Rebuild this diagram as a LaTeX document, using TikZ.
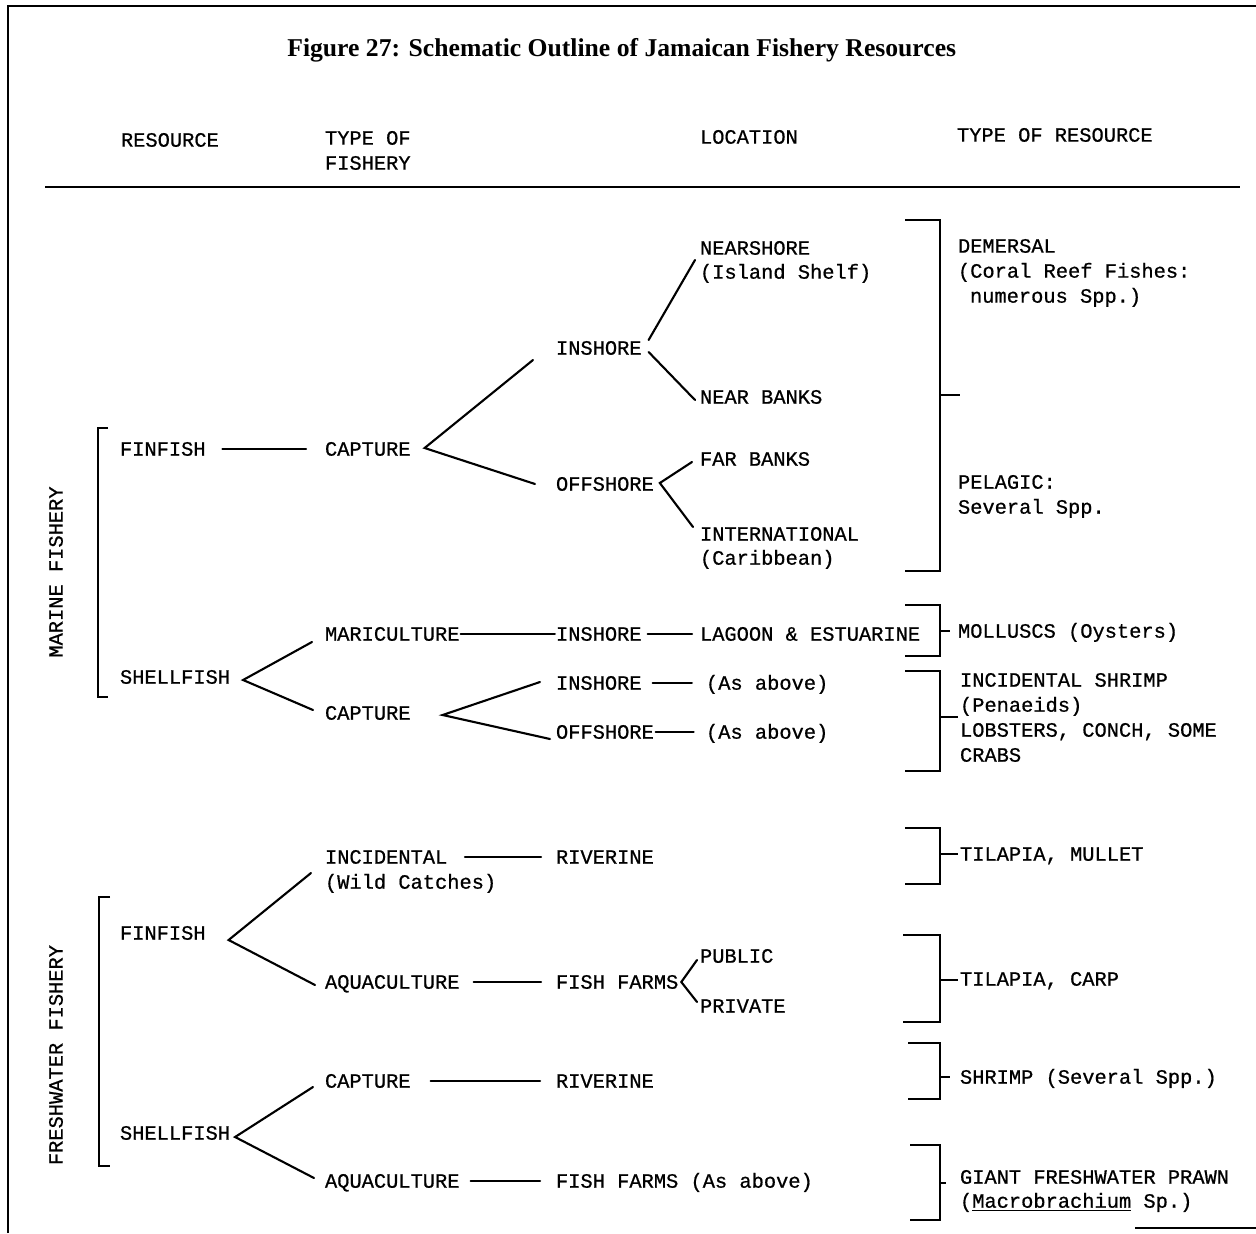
\documentclass[tikz,border=0pt]{standalone}
\usepackage{fontspec}
\setmainfont{Liberation Serif}
\newfontfamily\typer{Liberation Mono}[FakeBold=0.7]
\usetikzlibrary{calc}
\tikzset{
lab/.style = {anchor=west, inner sep=0pt, outer sep=0pt,
              text height=7.6pt, text depth=0pt,
              font=\typer\fontsize{11.6}{14}\selectfont},
wire/.style = {line width=1.2pt, line cap=round},
brk/.style = {line width=1.3pt},
gap/.style 2 args = {shorten <=#1, shorten >=#2}
}
% one line of typed text, left edge at the point
\newcommand{\lab}[3]{\node[lab] (#1) at (#2) {#3};}
% straight run between two labels on one row
\newcommand{\hlink}[4]{\draw[wire, gap={#3}{#4}] (#1.east) -- (#2.west);}
% the "<" split: vertex first, then both ends
\newcommand{\fork}[3]{\draw[wire] (#2) -- (#1) -- (#3);}
% closing bracket in front of the resource column
\newcommand{\resbrak}[3]{\draw[brk] (#1,#2) -| (940,#3) -- (#1,#3);}

\begin{document}
\begin{tikzpicture}[x=0.02cm, y=-0.02cm]
    \useasboundingbox (0,0) rectangle (1256,1233);
    \draw[line width=1.1pt] (8,1233) -- (8,6) -- (1256,6);
    \draw[line width=1.1pt] (1135,1228) -- (1256,1228);

    \node[anchor=west, inner sep=0pt, font=\bfseries\fontsize{14.6}{16}\selectfont]
        (title) at (287,50) {Figure 27: Schematic Outline of Jamaican Fishery Resources};

    % column heads
    \lab{hres}{121,140}{RESOURCE};
    \lab{htype}{325,138}{TYPE OF};
    \lab{htype2}{325,163}{FISHERY};
    \lab{hloc}{700,137}{LOCATION};
    \lab{hkind}{957,135}{TYPE OF RESOURCE};
    \draw[line width=1.2pt] (45,187) -- (1240,187);

    % marine side
    \node[lab, anchor=center, rotate=90] (marine) at (56,572) {MARINE FISHERY};
    \draw[brk] (108,428) -- (98,428) -- (98,697) -- (108,697);

    \lab{mfin}{120,449}{FINFISH};
    \lab{mcap}{325,449}{CAPTURE};
    \lab{mins}{556,348}{INSHORE};
    \lab{mnear}{700,248}{NEARSHORE};
    \lab{mnear2}{700,272}{(Island Shelf)};
    \lab{mnbank}{700,397}{NEAR BANKS};
    \lab{moff}{556,484}{OFFSHORE};
    \lab{mfbank}{700,459}{FAR BANKS};
    \lab{mintl}{700,534}{INTERNATIONAL};
    \lab{mintl2}{700,558}{(Caribbean)};

    \lab{dem}{958,246}{DEMERSAL};
    \lab{dem2}{958,271}{(Coral Reef Fishes:};
    \lab{dem3}{970,296}{numerous Spp.)};
    \lab{pel}{958,482}{PELAGIC:};
    \lab{pel2}{958,507}{Several Spp.};

    \hlink{mfin}{mcap}{9.5pt}{10.8pt}
    \coordinate (mcapv) at ([shift={(14,-1)}]mcap.east);
    \fork{mcapv}{[shift={(-23,12)}]mins.west}{[shift={(-21,0)}]moff.west}
    \draw[wire] ([shift={(7,-8)}]mins.east) -- ([shift={(-5,12)}]mnear.west);
    \draw[wire] ([shift={(7,4)}]mins.east) -- ([shift={(-5,3)}]mnbank.west);
    \coordinate (moffv) at ([shift={(6,-1)}]moff.east);
    \fork{moffv}{[shift={(-8,3)}]mfbank.west}{[shift={(-7,-7)}]mintl.west}

    \resbrak{905}{220}{571}
    \draw[brk] (940,395) -- (960,395);

    \lab{mshell}{120,677}{SHELLFISH};
    \lab{mmari}{325,634}{MARICULTURE};
    \lab{mmins}{556,634}{INSHORE};
    \lab{lagoon}{700,634}{LAGOON \& ESTUARINE};
    \lab{moll}{958,631}{MOLLUSCS (Oysters)};
    \lab{mcap2}{325,713}{CAPTURE};
    \lab{mcins}{556,683}{INSHORE};
    \lab{mcinsx}{706,683}{(As above)};
    \lab{mcoff}{556,732}{OFFSHORE};
    \lab{mcoffx}{706,732}{(As above)};

    \coordinate (mshellv) at ([shift={(13,3)}]mshell.east);
    \fork{mshellv}{[shift={(-13,8)}]mmari.west}{[shift={(-12,-3)}]mcap2.west}
    \hlink{mmari}{mmins}{0.6pt}{0.6pt}
    \hlink{mmins}{lagoon}{3.4pt}{4.5pt}
    \coordinate (mcap2v) at ([shift={(32,2)}]mcap2.east);
    \fork{mcap2v}{[shift={(-16,-1)}]mcins.west}{[shift={(-6,7)}]mcoff.west}
    \hlink{mcins}{mcinsx}{6.3pt}{8pt}
    \hlink{mcoff}{mcoffx}{1pt}{7pt}

    \resbrak{905}{605}{656}
    \draw[brk] (940,631) -- (950,631);
    \resbrak{905}{671}{771}
    \draw[brk] (940,717) -- (958,717);
    \lab{shr1}{960,680}{INCIDENTAL SHRIMP};
    \lab{shr2}{960,705}{(Penaeids)};
    \lab{shr3}{960,730}{LOBSTERS, CONCH, SOME};
    \lab{shr4}{960,755}{CRABS};

    % freshwater side
    \node[lab, anchor=center, rotate=90] (fresh) at (56,1055) {FRESHWATER FISHERY};
    \draw[brk] (110,897) -- (99,897) -- (99,1166) -- (110,1166);

    \lab{ffin}{120,933}{FINFISH};
    \lab{finc}{325,857}{INCIDENTAL};
    \lab{finc2}{325,882}{(Wild Catches)};
    \lab{friv}{556,857}{RIVERINE};
    \lab{faqua}{325,982}{AQUACULTURE};
    \lab{ffarm}{556,982}{FISH FARMS};
    \lab{fpub}{700,956}{PUBLIC};
    \lab{fpriv}{700,1006}{PRIVATE};

    \coordinate (ffinv) at ([shift={(23,7)}]ffin.east);
    \fork{ffinv}{[shift={(-14,16)}]finc.west}{[shift={(-10,3)}]faqua.west}
    \hlink{finc}{friv}{10pt}{8.5pt}
    \hlink{faqua}{ffarm}{8pt}{8.5pt}
    \coordinate (ffarmv) at ([shift={(3,0)}]ffarm.east);
    \fork{ffarmv}{[shift={(-3,4)}]fpub.west}{[shift={(-3,-4)}]fpriv.west}

    \lab{fshell}{120,1133}{SHELLFISH};
    \lab{fcap}{325,1081}{CAPTURE};
    \lab{friv2}{556,1081}{RIVERINE};
    \lab{faqua2}{325,1181}{AQUACULTURE};
    \lab{ffarm2}{556,1181}{FISH FARMS (As above)};

    \coordinate (fshellv) at ([shift={(5,4)}]fshell.east);
    \fork{fshellv}{[shift={(-12,6)}]fcap.west}{[shift={(-11,-3)}]faqua2.west}
    \hlink{fcap}{friv2}{11.4pt}{9pt}
    \hlink{faqua2}{ffarm2}{6.3pt}{9pt}

    \resbrak{905}{828}{884}
    \draw[brk] (940,854) -- (958,854);
    \lab{tilm}{960,854}{TILAPIA, MULLET};
    \resbrak{903}{935}{1022}
    \draw[brk] (940,980) -- (958,980);
    \lab{tilc}{960,979}{TILAPIA, CARP};
    \resbrak{908}{1043}{1099}
    \draw[brk] (940,1077) -- (950,1077);
    \lab{fshr}{960,1077}{SHRIMP (Several Spp.)};
    \resbrak{910}{1145}{1220}
    \draw[brk] (940,1183) -- (946,1183);
    \lab{prawn}{960,1177}{GIANT FRESHWATER PRAWN};
    \lab{prawn2}{960,1201}{(\underline{Macrobrachium} Sp.)};
\end{tikzpicture}
\end{document}
